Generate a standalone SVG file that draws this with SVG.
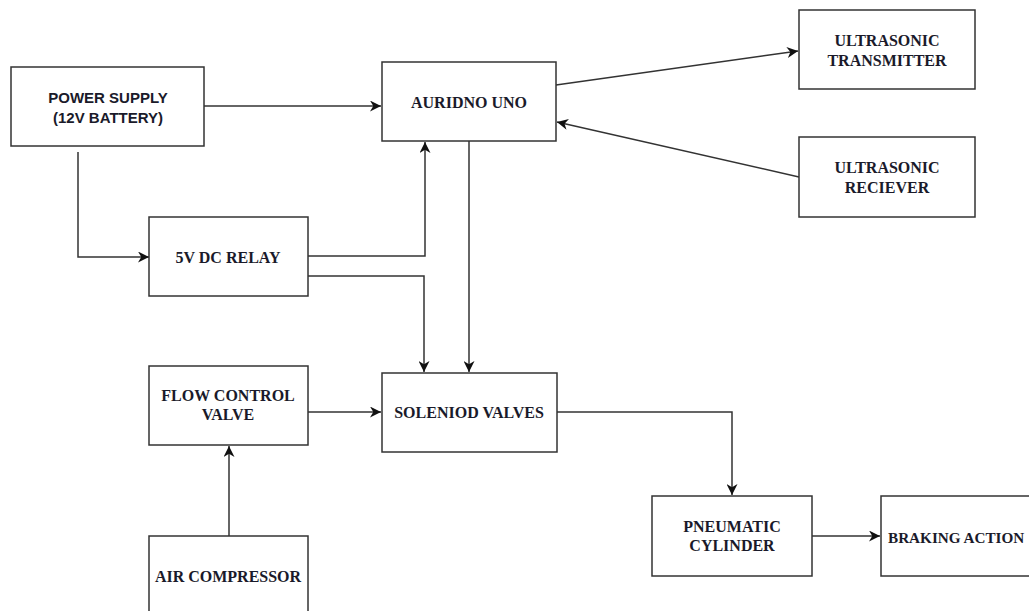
<svg xmlns="http://www.w3.org/2000/svg" width="1029" height="611" viewBox="0 0 1029 611">
<style>
.box{fill:#fff;stroke:#333;stroke-width:1.5}
.t{font-family:"Liberation Serif","Times New Roman",serif;font-weight:bold;font-size:16px;fill:#1a1a2a;text-anchor:middle;dominant-baseline:central}
.s{font-family:"Liberation Sans",Arial,sans-serif;font-weight:bold;font-size:15px;fill:#1a1a2a;text-anchor:middle;dominant-baseline:central}
.c{fill:none;stroke:#333;stroke-width:1.5;marker-end:url(#a)}
</style>
<defs>
<marker id="a" viewBox="0 0 10 10" refX="10" refY="5" markerWidth="11" markerHeight="11" markerUnits="userSpaceOnUse" orient="auto">
<path d="M0,0 L10,5 L0,10 L3,5 z" fill="#111"/>
</marker>
</defs>
<rect width="1029" height="611" fill="#fff"/>
<g id="connectors">
<path class="c" d="M204,106 H381"/>
<path class="c" d="M78,152 V257 H149"/>
<path class="c" d="M308,256 H425 V142"/>
<path class="c" d="M308,276 H424 V372"/>
<path class="c" d="M469,141 V372"/>
<path class="c" d="M556,85 L798,51"/>
<path class="c" d="M799,177 L557,122"/>
<path class="c" d="M301,412 H381"/>
<path class="c" d="M229,536 V446"/>
<path class="c" d="M557,412 H732 V495"/>
<path class="c" d="M812,536 H880"/>
</g>
<g id="power-supply">
<rect class="box" x="11" y="67" width="193" height="79"/>
<text class="s" x="108" y="97">POWER SUPPLY</text>
<text class="s" x="108" y="117">(12V BATTERY)</text>
</g>
<g id="arduino">
<rect class="box" x="382" y="62" width="174" height="79"/>
<text class="t" x="469" y="102">AURIDNO UNO</text>
</g>
<g id="ultrasonic-transmitter">
<rect class="box" x="799" y="10" width="176" height="79"/>
<text class="t" x="887" y="40">ULTRASONIC</text>
<text class="t" x="887" y="60">TRANSMITTER</text>
</g>
<g id="ultrasonic-receiver">
<rect class="box" x="799" y="137" width="176" height="80"/>
<text class="t" x="887" y="167">ULTRASONIC</text>
<text class="t" x="887" y="187">RECIEVER</text>
</g>
<g id="relay">
<rect class="box" x="149" y="217" width="159" height="79"/>
<text class="t" x="228" y="257">5V DC RELAY</text>
</g>
<g id="flow-control-valve">
<rect class="box" x="149" y="366" width="159" height="79"/>
<text class="t" x="228" y="395">FLOW CONTROL</text>
<text class="t" x="228" y="414">VALVE</text>
</g>
<g id="solenoid-valves">
<rect class="box" x="382" y="373" width="175" height="79"/>
<text class="t" x="469" y="412">SOLENIOD VALVES</text>
</g>
<g id="air-compressor">
<rect class="box" x="149" y="536" width="159" height="90"/>
<text class="t" x="228" y="576">AIR COMPRESSOR</text>
</g>
<g id="pneumatic-cylinder">
<rect class="box" x="652" y="496" width="160" height="80"/>
<text class="t" x="732" y="526">PNEUMATIC</text>
<text class="t" x="732" y="545">CYLINDER</text>
</g>
<g id="braking-action">
<rect class="box" x="881" y="496" width="170" height="80"/>
<text class="t" x="888" y="537" style="text-anchor:start;font-size:15.2px">BRAKING ACTION</text>
</g>
</svg>
